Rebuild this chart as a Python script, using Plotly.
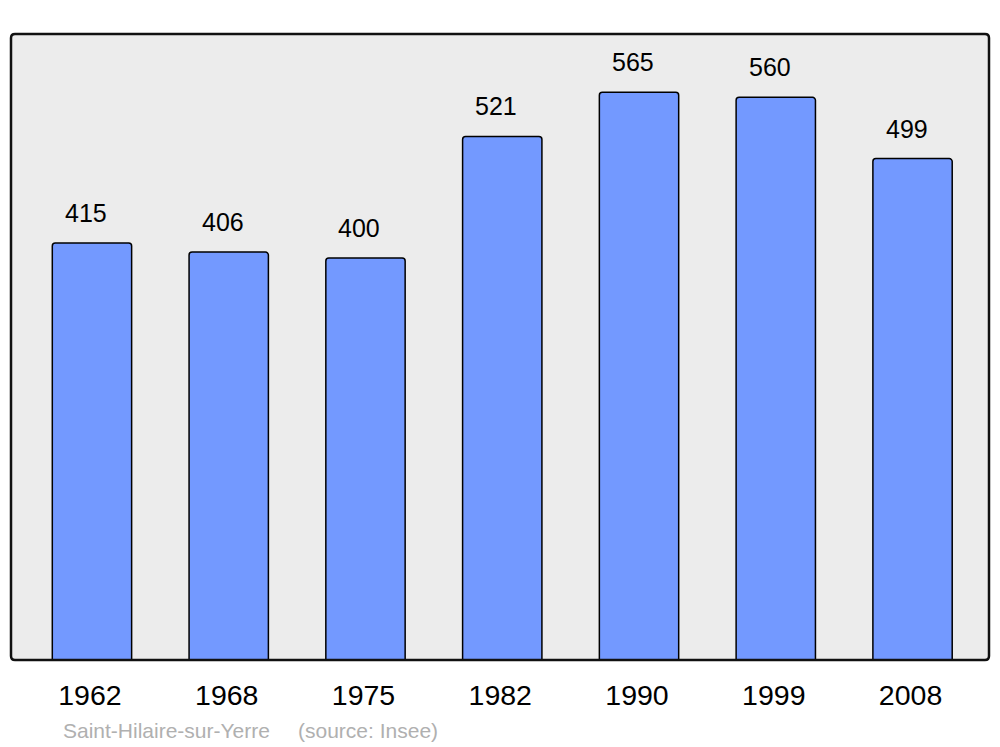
import plotly.graph_objects as go

years = ["1962", "1968", "1975", "1982", "1990", "1999", "2008"]
population = [415, 406, 400, 521, 565, 560, 499]
place = "Saint-Hilaire-sur-Yerre"
source = "(source: Insee)"

W, H = 1000, 747
L, R, T, B = 11, 11, 34, 87
pw, ph = W - L - R, H - T - B

xs = list(range(len(years)))

fig = go.Figure()
fig.add_trace(go.Bar(
    x=xs, y=population, width=0.58,
    marker=dict(color="#7399ff", line=dict(color="#000000", width=1.5), cornerradius=3),
    hoverinfo="skip",
))

for x, v in zip(xs, population):
    fig.add_annotation(x=x, y=v, text=str(v), showarrow=False, yanchor="bottom",
                       yshift=14, xshift=-6,
                       font=dict(size=25, color="#000000", family="Liberation Sans"))

# rounded border
r = 4
rx, ry = r / pw, r / ph
path = (f"M {rx} 0 L {1-rx} 0 Q 1 0 1 {ry} L 1 {1-ry} Q 1 1 {1-rx} 1 "
        f"L {rx} 1 Q 0 1 0 {1-ry} L 0 {ry} Q 0 0 {rx} 0 Z")
fig.add_shape(type="path", xref="paper", yref="paper", path=path,
              line=dict(color="#111111", width=2.5), layer="above")

fig.add_annotation(xref="paper", yref="paper", x=(61 - L) / pw, y=-(730 - T - ph) / ph,
                   text=place, showarrow=False, xanchor="left", yanchor="middle",
                   font=dict(size=21, color="#b0b0b0", family="Liberation Sans"))
fig.add_annotation(xref="paper", yref="paper", x=(296 - L) / pw, y=-(730 - T - ph) / ph,
                   text=source, showarrow=False, xanchor="left", yanchor="middle",
                   font=dict(size=21, color="#b0b0b0", family="Liberation Sans"))

fig.update_layout(
    width=W, height=H,
    margin=dict(l=L, r=R, t=T, b=B, pad=0),
    paper_bgcolor="#ffffff", plot_bgcolor="#ececec",
    showlegend=False,
    xaxis=dict(range=[-0.592, 6.559], tickvals=xs, ticktext=years, showgrid=False,
               zeroline=False, ticks="", ticklabelstandoff=15, ticklabelshift=-2,
               tickfont=dict(size=28.5, color="#000000", family="Liberation Sans"), fixedrange=True),
    yaxis=dict(range=[0, 623], showgrid=False, zeroline=False, showticklabels=False,
               ticks="", fixedrange=True),
)

fig.write_html("out.html", post_script="document.body.style.margin='0';document.body.style.overflow='hidden';",
               config={"displayModeBar": False})
